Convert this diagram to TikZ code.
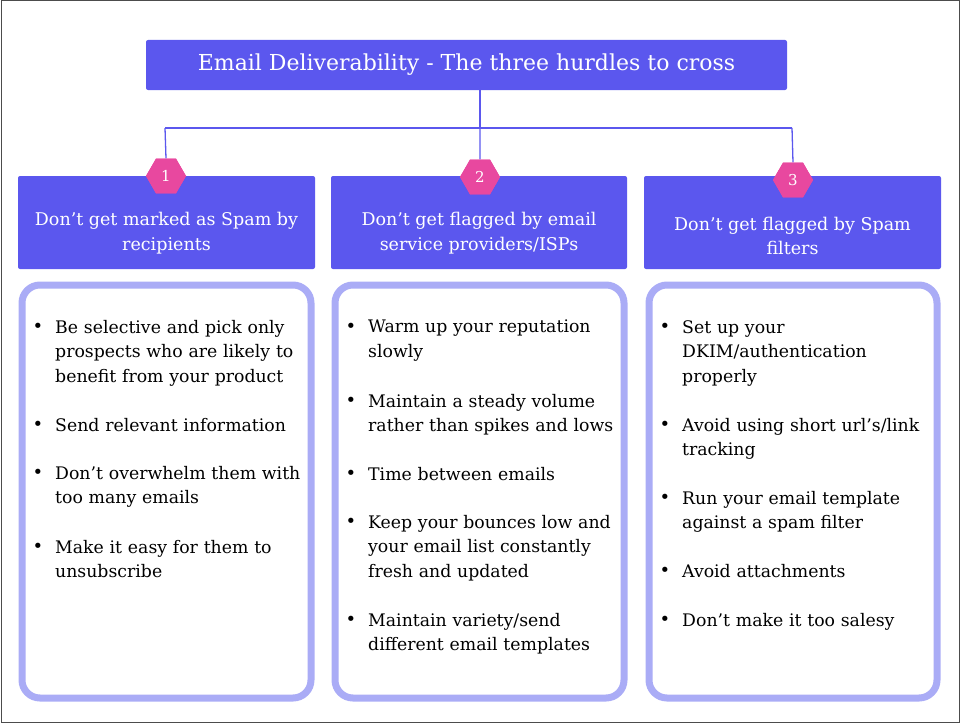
\documentclass[tikz,border=0pt]{standalone}
\usepackage{fontspec}
\setmainfont{DejaVu Serif}
\usetikzlibrary{shapes.geometric}
\definecolor{ind}{HTML}{5B57EE}
\definecolor{lav}{HTML}{AAACF6}
\definecolor{pnk}{HTML}{E8489F}
\begin{document}
\begin{tikzpicture}[x=1pt,y=-1pt,
  hdr/.style={fill=ind,draw=none,rounded corners=2pt,text=white,align=center,font=\fontsize{17.5}{24.5}\selectfont},
  card/.style={draw=lav,line width=7pt,rounded corners=18pt,fill=white},
  hex/.style={regular polygon,regular polygon sides=6,fill=pnk,minimum size=40pt,inner sep=0pt,text=white,font=\fontsize{15}{15}\selectfont},
  itm/.style={anchor=north west,text width=275pt,align=left,inner sep=0pt,font=\fontsize{17.3}{24.5}\selectfont},
  bul/.style={font=\fontsize{18}{18}\selectfont,inner sep=0pt},
  ln/.style={draw=ind,line width=1.3pt}]
\useasboundingbox (0,0) rectangle (960,725);
\draw[draw=black!70,line width=1pt] (1,1) rectangle (959,722);
\node[hdr,minimum width=641pt,minimum height=50pt,font=\fontsize{22}{24}\selectfont] (title) at (466.5,65) {Email Deliverability - The three hurdles to cross};
\coordinate (j) at (480,128);
\coordinate (l) at (165,128);
\coordinate (r) at (792,128);
\node[hdr,minimum width=297pt,minimum height=93pt] (h1) at (166.5,222.5) {};
\node[hdr,minimum width=296pt,minimum height=93pt] (h2) at (479,222.5) {};
\node[hdr,minimum width=297pt,minimum height=93pt] (h3) at (792.5,222.5) {};
\node[hdr,fill=none] (t1) at (166.5,233) {Don't get marked as Spam by\\recipients};
\node[hdr,fill=none] (t2) at (479,233) {Don't get flagged by email\\service providers/ISPs};
\node[hdr,fill=none] (t3) at (792.5,236) {Don't get flagged by Spam\\filters};
\draw[ln] (title.south -| j) -- (j);
\draw[ln] (l) -- (r);
\node[hex] (x1) at (166,176) {1};
\node[hex] (x2) at (480,177) {2};
\node[hex] (x3) at (793,180) {3};
\draw[ln] (l) -- (x1.north);
\draw[ln] (j) -- (x2.north);
\draw[ln] (r) -- (x3.north);
\node[hex] at (166,176) {1};
\node[hex] at (480,177) {2};
\node[hex] at (793,180) {3};
\draw[card] (22,285) rectangle (311,698);
\draw[card] (335,285) rectangle (624,698);
\draw[card] (649,285) rectangle (937,698);
\foreach \x/\y/\t in {
 38/328/{Be selective and pick only\\prospects who are likely to\\benefit from your product},
 38/426/{Send relevant information},
 38/474/{Don't overwhelm them with\\too many emails},
 38/548/{Make it easy for them to\\unsubscribe},
 351/328/{Warm up your reputation\\slowly},
 351/402/{Maintain a steady volume\\rather than spikes and lows},
 351/475/{Time between emails},
 351/523/{Keep your bounces low and\\your email list constantly\\fresh and updated},
 351/621/{Maintain variety/send\\different email templates},
 665/328/{Set up your\\DKIM/authentication\\properly},
 665/426/{Avoid using short url's/link\\tracking},
 665/499/{Run your email template\\against a spam filter},
 665/572/{Avoid attachments},
 665/621/{Don't make it too salesy}}
{
 \node[bul] at (\x,\y) {\textbullet};
 \node[itm] at (\x+17,\y-8) {\t};
}
\end{tikzpicture}
\end{document}
